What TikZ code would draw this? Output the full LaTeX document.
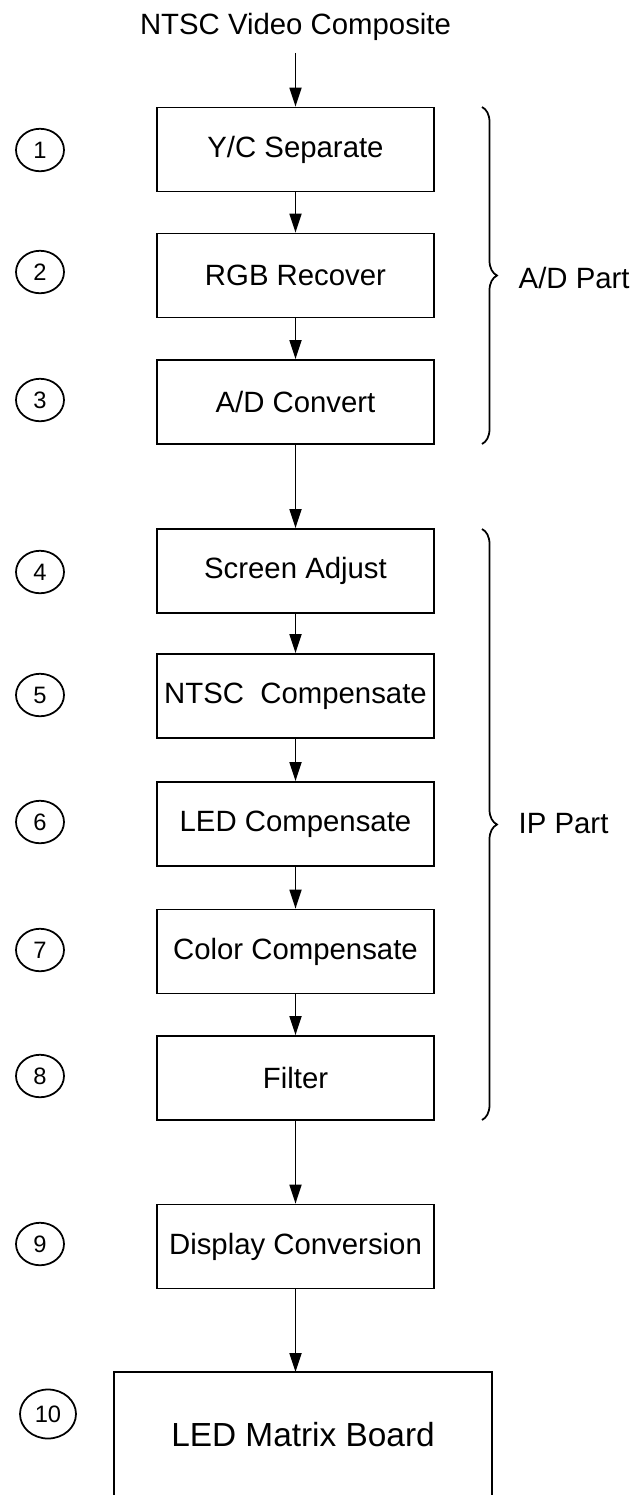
\documentclass[tikz,border=0pt]{standalone}
\usepackage{fontspec}
\setmainfont{Liberation Sans}
\usetikzlibrary{arrows.meta,decorations.pathreplacing,shapes.geometric}

\begin{document}
\begin{tikzpicture}[x=0.2mm,y=-0.2mm,line width=1pt,>={Triangle[length=3.8mm,width=2.4mm]},
  stage/.style={draw,minimum width=5.54cm,minimum height=1.68cm,inner sep=0pt,font=\fontsize{16.7}{20}\selectfont},
  num/.style={draw,ellipse,minimum width=9.6mm,minimum height=8.5mm,inner sep=0pt,font=\fontsize{13.5}{16}\selectfont},
  part/.style={anchor=west,font=\fontsize{16.7}{20}\selectfont},
  curly/.style={decorate,decoration={brace,amplitude=3mm}}]
  \useasboundingbox (0,0) rectangle (635,1495);
  \node[anchor=base,font=\fontsize{16.7}{20}\selectfont] (src) at (295.5,34) {NTSC Video Composite};
  % processing chain
  \node[stage] (yc)   at (295.5,149.5)  {Y/C Separate};
  \node[stage] (rgb)  at (295.5,275.5)  {RGB Recover};
  \node[stage] (ad)   at (295.5,402)    {A/D Convert};
  \node[stage] (scr)  at (295.5,571)    {Screen Adjust};
  \node[stage] (ntsc) at (295.5,696)    {NTSC\ \ Compensate};
  \node[stage] (led)  at (295.5,824)    {LED Compensate};
  \node[stage] (col)  at (295.5,951.5)  {Color Compensate};
  \node[stage] (flt)  at (295.5,1078)   {Filter};
  \node[stage] (disp) at (295.5,1246.5) {Display Conversion};
  % board box runs off the bottom edge
  \draw (114,1510) -- (114,1372) -- (492,1372) -- (492,1510);
  \coordinate (board) at (295.5,1372);
  \node[font=\fontsize{19}{23}\selectfont] (brd) at (303,1435) {LED Matrix Board};
  \draw[->] (src.south)+(0,6) -- (yc);
  \foreach \a/\b in {yc/rgb,rgb/ad,ad/scr,scr/ntsc,ntsc/led,led/col,col/flt,flt/disp}
    \draw[->] (\a) -- (\b);
  \draw[->] (disp) -- (board);
  % step numbers
  \foreach \n/\y in {1/150,2/272,3/400,4/572,5/695,6/822,7/950,8/1076,9/1244}
    \node[num] (n\n) at (40,\y) {\n};
  \node[num,minimum width=11.2mm,minimum height=9.8mm] (n10) at (48,1414) {10};
  % grouping braces
  \draw[curly] (482,107) -- (482,444);
  \node[part] (adp) at (512,278) {A/D Part};
  \draw[curly] (482,529) -- (482,1120);
  \node[part] (ipp) at (512,824) {IP Part};
\end{tikzpicture}
\end{document}
